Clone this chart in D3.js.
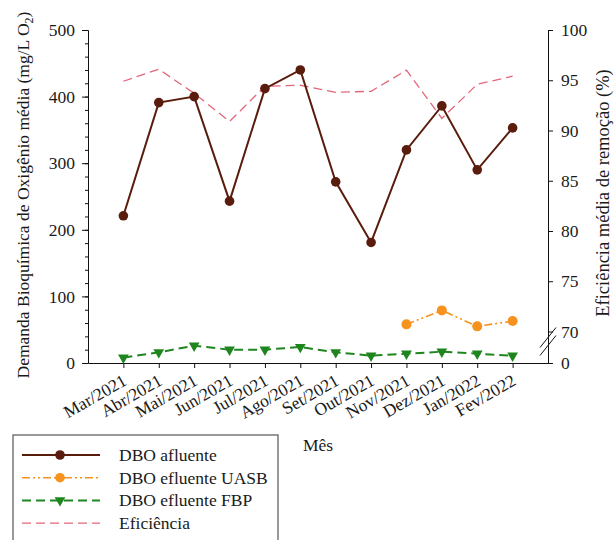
<!DOCTYPE html>
<html>
<head>
<meta charset="utf-8">
<script src="https://cdn.jsdelivr.net/npm/d3@7"></script>
<style>
  body { margin: 0; background: #fff; }
  svg text { font-family: "Liberation Serif", "Times New Roman", serif; }
</style>
</head>
<body>
<div id="chart"></div>
<script>
// months on the x axis
const months = ["Mar/2021", "Abr/2021", "Mai/2021", "Jun/2021", "Jul/2021", "Ago/2021",
                "Set/2021", "Out/2021", "Nov/2021", "Dez/2021", "Jan/2022", "Fev/2022"];

// DBO values (mg/L O2)
const dboAfluente = [221, 391, 400, 243, 412, 440, 272, 181, 320, 386, 290, 353];
const dboUasb = [null, null, null, null, null, null, null, null, 58, 79, 55, 63];
const dboFbp = [8, 16, 26, 20, 20, 24, 16, 11, 14, 17, 14, 11];

// removal efficiency (%)
const eficiencia = [94.9, 96.1, 93.7, 90.9, 94.4, 94.5, 93.8, 93.9, 96.0, 91.2, 94.6, 95.4];

const leftTicks = [0, 100, 200, 300, 400, 500];
const rightTicks = [0, 70, 75, 80, 85, 90, 95, 100];

const width = 616, height = 540;
const margin = {top: 30, right: 68, bottom: 177, left: 88};
const plotBottom = height - margin.bottom;
const plotRight = width - margin.right;

const colors = {
  afluente: "#5a1c0c",
  uasb: "#f7921e",
  fbp: "#1f861f",
  ef: "#e3667a"
};

const svg = d3.select("#chart")
              .append("svg")
              .attr("width", width)
              .attr("height", height);

//Scales
const xScale = d3.scalePoint()
                 .domain(months)
                 .range([margin.left, plotRight])
                 .padding(1);

const yLeft = d3.scaleLinear()
                .domain([0, 500])
                .range([plotBottom, margin.top]);

// broken right axis: 0 then jump to 70..100
const yRight = d3.scaleLinear()
                 .domain([0, 70, 100])
                 .range([plotBottom, plotBottom - 31.5, margin.top]);

//Axes
const leftMinor = d3.axisLeft(yLeft)
                    .tickValues(d3.range(0, 501, 20))
                    .tickSize(3)
                    .tickFormat("");
svg.append("g")
   .attr("transform", "translate(" + margin.left + ",0)")
   .call(leftMinor)
   .call(g => g.select(".domain").remove());

const leftAxis = d3.axisLeft(yLeft)
                   .tickValues(leftTicks)
                   .tickSize(6)
                   .tickPadding(7);
svg.append("g")
   .attr("class", "axis")
   .attr("transform", "translate(" + margin.left + ",0)")
   .call(leftAxis);

const rightAxis = d3.axisRight(yRight)
                    .tickValues(rightTicks)
                    .tickSize(5)
                    .tickPadding(8);
svg.append("g")
   .attr("class", "axis")
   .attr("transform", "translate(" + plotRight + ",0)")
   .call(rightAxis);

const xAxis = d3.axisBottom(xScale)
                .tickSize(5)
                .tickSizeOuter(0);
const xg = svg.append("g")
              .attr("class", "axis")
              .attr("transform", "translate(0," + plotBottom + ")")
              .call(xAxis);

xg.selectAll("text")
  .attr("text-anchor", "end")
  .attr("x", 0)
  .attr("y", 0)
  .attr("dy", 0)
  .attr("transform", "translate(4,21) rotate(-30)");

svg.selectAll(".axis text")
   .style("font-size", "17.5px")
   .style("font-family", "Liberation Serif")
   .attr("fill", "#1a1a1a");
svg.selectAll(".axis path, .axis line, g line").attr("stroke", "#111");

// axis break marks on right axis
const breakY = yRight(70) + 6;
[[-8, 10, 0], [-8, 10, 8]].forEach(b => {
  svg.append("line")
     .attr("x1", plotRight + b[0]).attr("y1", breakY + b[1] + b[2])
     .attr("x2", plotRight - b[0]).attr("y2", breakY - b[1] + b[2])
     .attr("stroke", "#111")
     .attr("stroke-width", 1);
});

//Lines
const line = (scale) => d3.line()
                         .defined(d => d.v !== null)
                         .x(d => xScale(d.m))
                         .y(d => scale(d.v));

const toPts = (arr) => arr.map((v, i) => ({m: months[i], v: v}));

svg.append("path")
   .datum(toPts(eficiencia))
   .attr("d", line(yRight))
   .attr("fill", "none")
   .attr("stroke", colors.ef)
   .attr("stroke-width", 1.3)
   .attr("stroke-dasharray", "9,5");

svg.append("path")
   .datum(toPts(dboFbp))
   .attr("d", line(yLeft))
   .attr("fill", "none")
   .attr("stroke", colors.fbp)
   .attr("stroke-width", 2)
   .attr("stroke-dasharray", "9,5");

const tri = d3.symbol().type(d3.symbolTriangle).size(50);
svg.selectAll(".fbp")
   .data(toPts(dboFbp))
   .enter().append("path")
   .attr("d", tri)
   .attr("transform", d => "translate(" + xScale(d.m) + "," + yLeft(d.v) + ") rotate(180)")
   .attr("fill", colors.fbp);

svg.append("path")
   .datum(toPts(dboUasb))
   .attr("d", line(yLeft))
   .attr("fill", "none")
   .attr("stroke", colors.uasb)
   .attr("stroke-width", 1.6)
   .attr("stroke-dasharray", "8,3,2,3,2,3");

svg.selectAll(".uasb")
   .data(toPts(dboUasb).filter(d => d.v !== null))
   .enter().append("circle")
   .attr("cx", d => xScale(d.m))
   .attr("cy", d => yLeft(d.v))
   .attr("r", 5)
   .attr("fill", colors.uasb);

svg.append("path")
   .datum(toPts(dboAfluente))
   .attr("d", line(yLeft))
   .attr("fill", "none")
   .attr("stroke", colors.afluente)
   .attr("stroke-width", 2);

svg.selectAll(".afl")
   .data(toPts(dboAfluente))
   .enter().append("circle")
   .attr("cx", d => xScale(d.m))
   .attr("cy", d => yLeft(d.v))
   .attr("r", 4.8)
   .attr("fill", colors.afluente);

//Axis titles
const leftTitle = svg.append("text")
   .attr("transform", "translate(29,195) rotate(-90)")
   .attr("text-anchor", "middle")
   .style("font-size", "17.5px")
   .attr("fill", "#1a1a1a");
leftTitle.append("tspan").text("Demanda Bioquímica de Oxigênio média (mg/L O");
leftTitle.append("tspan").attr("dy", 4).style("font-size", "12px").text("2");
leftTitle.append("tspan").attr("dy", -4).text(")");

svg.append("text")
   .attr("transform", "translate(609,193) rotate(-90)")
   .attr("text-anchor", "middle")
   .style("font-size", "18.5px")
   .attr("fill", "#1a1a1a")
   .text("Eficiência média de remoção (%)");

svg.append("text")
   .attr("x", 303)
   .attr("y", 451)
   .style("font-size", "17.5px")
   .attr("fill", "#1a1a1a")
   .text("Mês");

//Legend
const legendItems = [
  {name: "DBO afluente", color: colors.afluente, dash: null, width: 2, marker: "circle"},
  {name: "DBO efluente UASB", color: colors.uasb, dash: "8,3,2,3,2,3", width: 1.6, marker: "circle"},
  {name: "DBO efluente FBP", color: colors.fbp, dash: "9,5", width: 2, marker: "triangle"},
  {name: "Eficiência", color: colors.ef, dash: "9,5", width: 1.3, marker: null}
];

const legend = svg.append("g").attr("transform", "translate(13,435)");
legend.append("rect")
      .attr("width", 265)
      .attr("height", 115)
      .attr("fill", "#fff")
      .attr("stroke", "#555")
      .attr("stroke-width", 1.2);

const rows = legend.selectAll(".row")
                   .data(legendItems)
                   .enter().append("g")
                   .attr("transform", (d, i) => "translate(0," + (20 + i * 22.7) + ")");

rows.append("line")
    .attr("x1", 9).attr("x2", 87)
    .attr("stroke", d => d.color)
    .attr("stroke-width", d => d.width)
    .attr("stroke-dasharray", d => d.dash);

rows.filter(d => d.marker === "circle")
    .append("circle")
    .attr("cx", 47)
    .attr("r", 4.8)
    .attr("fill", d => d.color);

rows.filter(d => d.marker === "triangle")
    .append("path")
    .attr("d", tri)
    .attr("transform", "translate(47,0) rotate(180)")
    .attr("fill", d => d.color);

rows.append("text")
    .attr("x", 106)
    .attr("y", 6)
    .style("font-size", "17.5px")
    .attr("fill", "#1a1a1a")
    .text(d => d.name);
</script>
</body>
</html>
